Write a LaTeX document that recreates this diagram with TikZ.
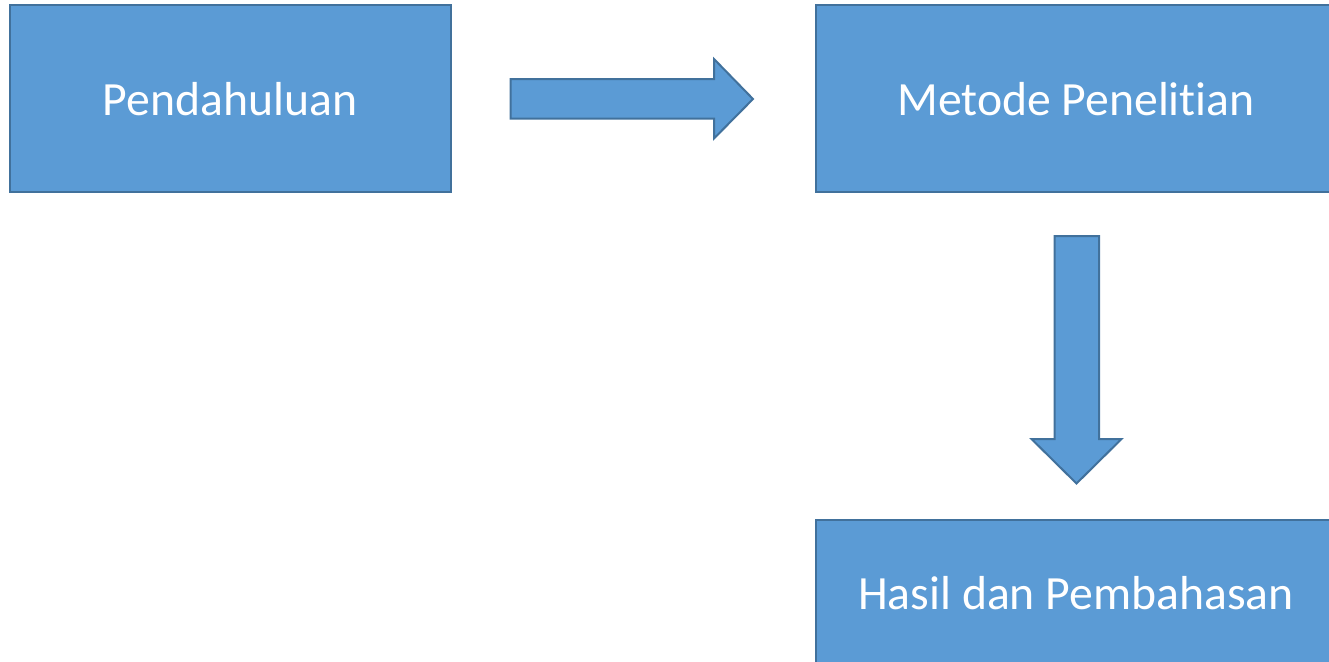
\documentclass[tikz,border=0pt]{standalone}
\usepackage{fontspec}
\setmainfont{Carlito}[Ligatures=NoCommon]
\usepackage{tikz}
\usetikzlibrary{positioning,calc}

\definecolor{boxfill}{HTML}{5B9BD5}
\definecolor{boxline}{HTML}{41719C}

\tikzset{
  stage/.style={draw=boxline, fill=boxfill, line width=2pt, text=white,
    font=\fontsize{47.7}{57}\selectfont, inner sep=0pt},
  blockarrow/.style={draw=boxline, fill=boxfill, line width=2pt, line join=miter}
}

\begin{document}
\begin{tikzpicture}[x=1pt,y=-1pt]
    % page size
    \useasboundingbox (0,0) rectangle (1329,661);

    % the three stages
    \node[stage, minimum width=441pt, minimum height=186.5pt] (intro) at (230,98.75) {Pendahuluan};
    \node[stage, minimum width=521pt, minimum height=186.5pt] (method) at (1076,98.75) {Metode Penelitian};
    \node[stage, minimum width=521pt, minimum height=146pt] (result) at (1076,593) {Hasil dan Pembahasan};

    % block arrow between intro and method
    \draw[blockarrow] (510.5,79) -- (714,79) -- (714,59) -- (753,99) --
      (714,138.5) -- (714,118.5) -- (510.5,118.5) -- cycle;

    % block arrow between method and result
    \draw[blockarrow] (1054.5,236) -- (1099,236) -- (1099,439) -- (1121.5,439) --
      (1076.5,483.5) -- (1031.5,439) -- (1054.5,439) -- cycle;
\end{tikzpicture}
\end{document}
